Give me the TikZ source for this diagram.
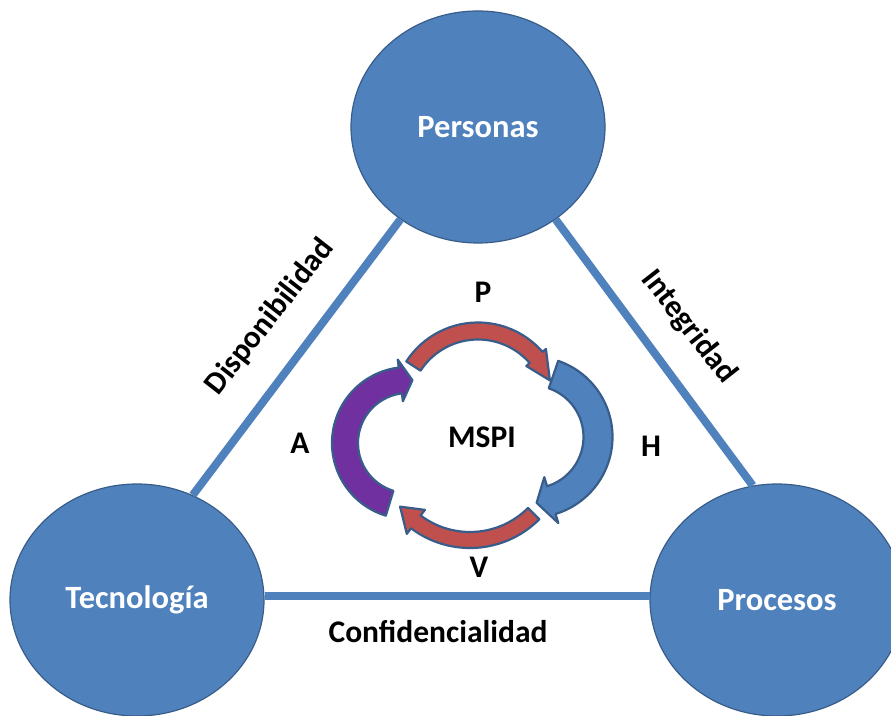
\documentclass[tikz,border=0pt]{standalone}
\usepackage{fontspec}
\setmainfont{Carlito}
\usetikzlibrary{shapes.geometric}

\definecolor{ciblue}{HTML}{4F81BD}
\definecolor{cidark}{HTML}{385D8A}
\definecolor{cired}{HTML}{C0504D}
\definecolor{cipurple}{HTML}{7030A0}

\tikzset{
  pillar/.style={ellipse, fill=ciblue, draw=cidark, line width=1.2pt,
    minimum width=254pt, minimum height=232pt, inner sep=0pt,
    text=white, font=\bfseries\fontsize{32.5}{36}\selectfont},
  link/.style={draw=ciblue, line width=8pt},
  lbl/.style={font=\bfseries\fontsize{31.5}{35}\selectfont, text=black},
  cyc/.style={draw=cidark, line width=2.2pt, line join=round},
}

% curved cycle arrow: #1 centre, #2 mid radius, #3 shaft width,
% #4 start angle, #5 tip angle, #6 head span (deg), #7 head width, #8 fill
\newcommand\cyclearc[8]{%
  \pgfmathsetmacro\ro{#2+#3/2}\pgfmathsetmacro\ri{#2-#3/2}%
  \pgfmathsetmacro\ho{#2+#7/2}\pgfmathsetmacro\hi{#2-#7/2}%
  \pgfmathsetmacro\hb{#5+#6}%
  \filldraw[cyc, fill=#8, shift={#1}]
    (#4:\ro pt) arc[start angle=#4, end angle=\hb, radius=\ro pt]
    -- (\hb:\ho pt) -- (#5:#2 pt) -- (\hb:\hi pt) -- (\hb:\ri pt)
    arc[start angle=\hb, end angle=#4, radius=\ri pt] -- cycle;}

\begin{document}
\begin{tikzpicture}[x=1pt,y=1pt]
  \useasboundingbox (0,0) rectangle (891,715);
  \fill[white] (0,0) rectangle (891,715);
  \clip (0,0) rectangle (891,715);

  % the three pillars
  \node[pillar] (per) at (478,588) {Personas};
  \node[pillar] (tec) at (137,115) {Tecnología};
  \node[pillar] (pro) at (777,115) {Procesos};

  % sides of the triangle
  \draw[link] (per.230.6) -- (tec.62.4);
  \draw[link] (per.310.6) -- (pro.102);
  \draw[link] (tec.2) -- (pro.178);

  % PHVA cycle
  \cyclearc{(478,307)}{77}{17}{147}{21}{20}{26}{cired}
  \cyclearc{(532,278)}{66}{29}{71}{-86}{13}{48}{ciblue}
  \cyclearc{(470,265)}{90}{16}{-45}{-141}{14}{30}{cired}
  \cyclearc{(408,272)}{63}{26}{253}{86}{11}{42}{cipurple}

  % labels
  \node[lbl] (lp) at (483,423) {P};
  \node[lbl] (lh) at (651,269) {H};
  \node[lbl] (la) at (300,272) {A};
  \node[lbl] (lv) at (479,148) {V};
  \node[lbl] (lm) at (482,278) {MSPI};
  \node[lbl, rotate=52] (ld) at (270,398) {Disponibilidad};
  \node[lbl, rotate=-52] (li) at (689,388) {Integridad};
  \node[lbl] (lc) at (438,83) {Confidencialidad};
\end{tikzpicture}
\end{document}
